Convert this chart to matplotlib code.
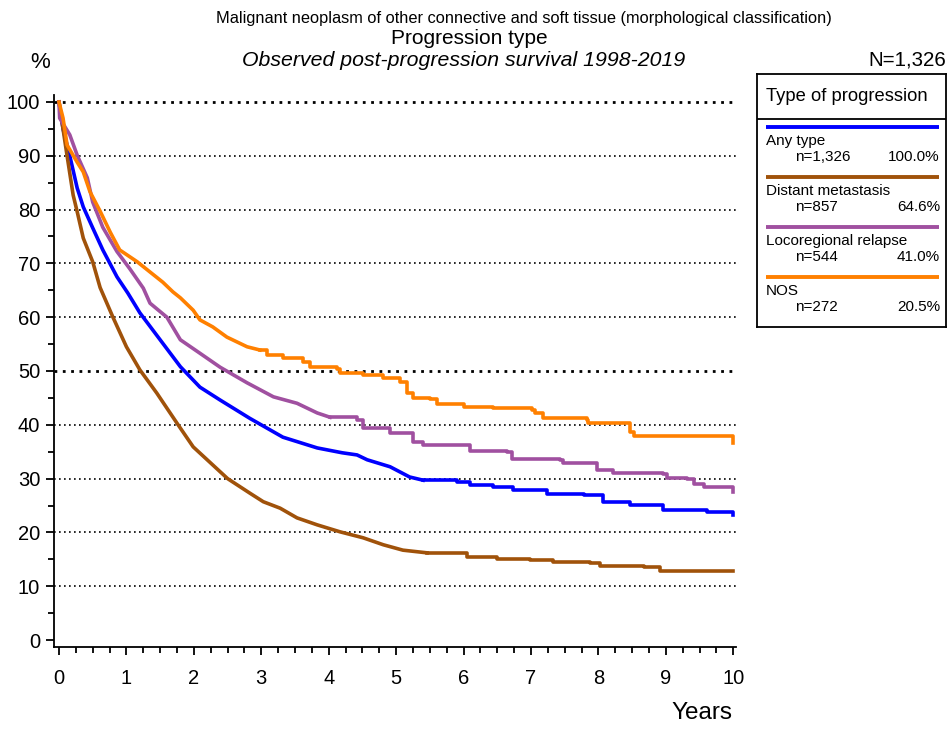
import numpy as np
import matplotlib
matplotlib.use('Agg')
import matplotlib.pyplot as plt

plt.rcParams['font.family'] = ['Liberation Sans', 'DejaVu Sans']

# Số liệu (năm, % sống còn)
any_x = [0, 0.06, 0.16, 0.27, 0.36, 0.5, 0.65, 0.86, 1.02, 1.2, 1.5, 1.8, 2.09, 2.39, 2.83, 3.32,
         3.83, 4.2, 4.42, 4.57, 4.91, 5.2, 5.4, 5.9, 6.1, 6.44, 6.74, 7.24, 7.78, 8.07, 8.47, 8.96,
         9.61, 10]
any_y = [100, 95, 90, 84, 80.5, 76.6, 72.5, 67.5, 64.5, 60.8, 55.8, 50.8, 47, 44.6, 41.2, 37.7,
         35.7, 34.8, 34.4, 33.5, 32.2, 30.3, 29.7, 29.4, 28.8, 28.4, 27.9, 27.1, 26.9, 25.7, 25.1,
         24.2, 23.8, 23.3]

dist_x = [0, 0.06, 0.12, 0.21, 0.27, 0.36, 0.5, 0.61, 0.8, 1.0, 1.2, 1.45, 1.75, 1.99, 2.5, 2.83,
          3.03, 3.28, 3.53, 3.83, 4.17, 4.51, 4.81, 5.1, 5.46, 6.05, 6.5, 6.99, 7.33, 7.88, 8.03,
          8.67, 8.92, 10]
dist_y = [100, 95, 90, 82.7, 79.6, 74.7, 70.3, 65.5, 60, 54.5, 50.2, 45.9, 40.3, 35.9, 30, 27.3,
          25.7, 24.5, 22.7, 21.4, 20.1, 19, 17.7, 16.7, 16.2, 15.4, 15, 14.9, 14.5, 14.3, 13.8,
          13.6, 12.8, 12.8]

loco_x = [0, 0.01, 0.16, 0.27, 0.42, 0.5, 0.65, 0.86, 1.05, 1.25, 1.35, 1.6, 1.8, 2.09, 2.39, 2.79,
          3.18, 3.53, 3.83, 4.02, 4.42, 4.51, 4.91, 5.25, 5.4, 6.0, 6.1, 6.65, 6.72, 7.43, 7.48,
          7.88, 7.98, 8.22, 8.96, 9.02, 9.32, 9.41, 9.56, 9.99]
loco_y = [100, 97, 93.9, 90.1, 85.9, 81.4, 76.7, 72.2, 69, 65.4, 62.6, 60, 55.8, 53.3, 50.7, 47.8,
          45.2, 44, 42.2, 41.4, 40.9, 39.4, 38.5, 36.8, 36.2, 36.2, 35.1, 34.9, 33.6, 33.5, 32.9,
          32.9, 31.6, 31, 30.9, 30.1, 29.9, 29, 28.4, 27.5]

nos_x = [0, 0.06, 0.12, 0.27, 0.36, 0.46, 0.61, 0.76, 0.9, 1.16, 1.35, 1.54, 1.69, 1.8, 1.99, 2.09,
         2.28, 2.49, 2.79, 2.98, 3.09, 3.32, 3.62, 3.72, 4.12, 4.17, 4.51, 4.81, 5.06, 5.16, 5.25,
         5.5, 5.61, 6.0, 6.44, 7.02, 7.06, 7.18, 7.83, 7.85, 8.43, 8.47, 8.52, 9.99]
nos_y = [100, 97, 92, 88.8, 87, 83.3, 79.7, 75.8, 72.5, 70.3, 68.4, 66.5, 64.7, 63.6, 61.3, 59.5,
         58.2, 56.3, 54.5, 53.9, 53, 52.4, 51.7, 50.7, 50.4, 49.6, 49.3, 48.7, 48, 45.9, 45,
         44.8, 43.9, 43.3, 43.1, 42.8, 42.2, 41.3, 40.9, 40.3, 40.3, 38.7, 37.9, 36.6]

names = ['Any type', 'Distant metastasis', 'Locoregional relapse', 'NOS']
counts = ['n=1,326', 'n=857', 'n=544', 'n=272']
shares = ['100.0%', '64.6%', '41.0%', '20.5%']
colors = ['#0000ff', '#a0520a', '#a050a0', '#ff8000']
series = [(any_x, any_y), (dist_x, dist_y), (loco_x, loco_y), (nos_x, nos_y)]
# năm mà từ đó đường cong chuyển sang dạng bậc thang rõ
cuts = [5.3, 5.2, 4.0, 2.8]

fig = plt.figure(figsize=(9.48, 7.29), dpi=100)
ax = fig.add_axes([54 / 948, 1 - 647 / 729, (736 - 54) / 948, (647 - 95) / 729])

# Lưới chấm
for g in range(10, 101, 10):
    lw = 2.0 if g in (50, 100) else 1.2
    ax.axhline(g, color='black', lw=lw, ls=(0, (1, 2)), zorder=1)

# Đoạn đầu dốc vẽ nối thẳng, phần sau vẽ bậc thang
for (xs, ys), c, cut in zip(series, colors, cuts):
    xs = np.array(xs)
    ys = np.array(ys)
    k = np.searchsorted(xs, cut)
    ax.plot(xs[:k + 1], ys[:k + 1], color=c, lw=2.6, zorder=3, solid_joinstyle='round')
    ax.step(xs[k:], ys[k:], where='post', color=c, lw=2.6, zorder=3)

ax.set_xlim(-0.074, 10.04)
ax.set_ylim(-1.3, 101.3)
ax.spines['top'].set_visible(False)
ax.spines['right'].set_visible(False)
ax.spines['left'].set_linewidth(1.3)
ax.spines['bottom'].set_linewidth(1.3)
ax.set_xticks(range(0, 11))
ax.set_xticks(np.arange(0, 10.01, 0.25), minor=True)
ax.set_yticks(range(0, 101, 10))
ax.set_yticks(range(5, 100, 10), minor=True)
ax.tick_params(which='major', length=6, width=1.3, labelsize=14.5, pad=4)
ax.tick_params(which='minor', length=4, width=1.3)
ax.tick_params(axis='x', pad=10)

fig.text(524 / 948, 1 - 18 / 729, 'Malignant neoplasm of other connective and soft tissue (morphological classification)',
         ha='center', va='center', fontsize=11.8)
fig.text(469 / 948, 1 - 39 / 729, 'Progression type', ha='center', va='center', fontsize=15)
fig.text(464 / 948, 1 - 60 / 729, 'Observed post-progression survival 1998-2019', ha='center', va='center',
         fontsize=15.3, style='italic')
fig.text(40 / 948, 1 - 62 / 729, '%', ha='center', va='center', fontsize=16)
fig.text(946 / 948, 1 - 60 / 729, 'N=1,326', ha='right', va='center', fontsize=14.8)
fig.text(732 / 948, 1 - 713 / 729, 'Years', ha='right', va='center', fontsize=17.5)

# Chú thích dạng hộp
lg = fig.add_axes([757 / 948, 1 - 327 / 729, (946 - 757) / 948, (327 - 74) / 729])
lg.set_xlim(0, 189)
lg.set_ylim(253, 0)
lg.set_xticks([])
lg.set_yticks([])
for s in lg.spines.values():
    s.set_linewidth(1.3)
lg.text(9, 22, 'Type of progression', va='center', ha='left', fontsize=13.2)
lg.axhline(45, color='black', lw=1.3)
for i in range(4):
    y0 = 53 + i * 50
    lg.plot([9, 182], [y0, y0], color=colors[i], lw=2.8, solid_capstyle='butt')
    lg.text(9, y0 + 14, names[i], va='center', ha='left', fontsize=11)
    lg.text(38, y0 + 30, counts[i], va='center', ha='left', fontsize=11)
    lg.text(183, y0 + 30, shares[i], va='center', ha='right', fontsize=11)

fig.savefig('out.png', dpi=100)
